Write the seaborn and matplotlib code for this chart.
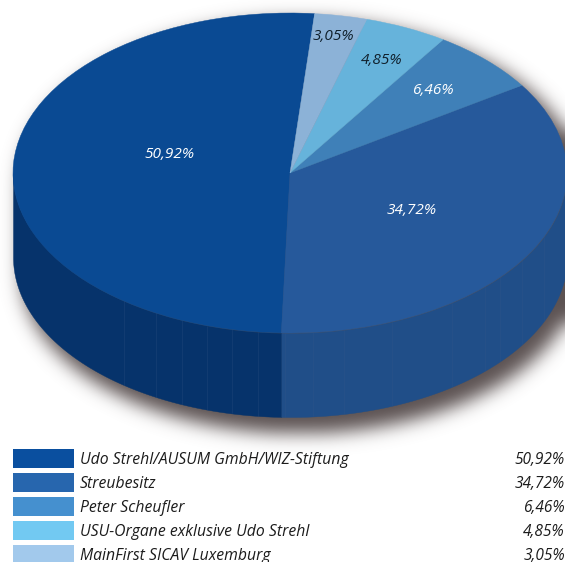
import numpy as np
import matplotlib
matplotlib.use("Agg")
import matplotlib.pyplot as plt
from matplotlib.patches import Rectangle
import seaborn as sns

names = ["Udo Strehl/AUSUM GmbH/WIZ-Stiftung", "Streubesitz", "Peter Scheufler",
         "USU-Organe exklusive Udo Strehl", "MainFirst SICAV Luxemburg"]
shares = [50.92, 34.72, 6.46, 4.85, 3.05]
labels = ["50,92%", "34,72%", "6,46%", "4,85%", "3,05%"]
top_colors = ["#0a4a93", "#26599b", "#3f80b8", "#66b3db", "#8cb2d7"]
side_colors = ["#06336b", "#204e88"]
legend_colors = ["#0a4f9f", "#2766ae", "#4590cf", "#72c9f2", "#a2c9ec"]
label_colors = ["white", "white", "white", "#10202c", "#10202c"]
label_px = [(169, 155), (412, 210), (433, 90), (382, 60), (333, 36)]

W, H = 565, 562
CX, CY, RX, RY, DEPTH = 290, 173, 277, 160, 84
START = 84.9

sns.set_theme(style="white")
plt.rcParams["font.family"] = ["Open Sans", "DejaVu Sans"]
fig = plt.figure(figsize=(W / 100, H / 100), dpi=100, facecolor="white")

# pixel overlay axes
bg = fig.add_axes([0, 0, 1, 1], zorder=0)

# soft shadow from the silhouette of the disc
yy, xx = np.mgrid[0:H, 0:W]
SX, SRX, TOP, BOT = CX + 9, RX + 1, 7, 16
mask = ((((xx - SX) / SRX) ** 2 + ((yy - CY - TOP) / RY) ** 2 <= 1)
        | (((xx - SX) / SRX) ** 2 + ((yy - CY - DEPTH - BOT) / RY) ** 2 <= 1)
        | ((np.abs(xx - SX) <= SRX) & (yy >= CY + TOP) & (yy <= CY + DEPTH + BOT))).astype(float)
pad = 60
big = np.pad(mask, pad, mode="edge")
kx = np.arange(-36, 37)
g = np.exp(-kx ** 2 / (2 * 9.0 ** 2)); g /= g.sum()
big = np.apply_along_axis(lambda r: np.convolve(r, g, mode="same"), 0, big)
big = np.apply_along_axis(lambda r: np.convolve(r, g, mode="same"), 1, big)
blur = big[pad:-pad, pad:-pad]
rgba = np.zeros((H, W, 4))
rgba[..., 0], rgba[..., 1], rgba[..., 2] = 0.36, 0.32, 0.32
rgba[..., 3] = np.clip(blur, 0, 1)
bg.imshow(rgba, extent=(0, W, H, 0), aspect="auto", interpolation="bilinear")
bg.set_xlim(0, W); bg.set_ylim(H, 0); bg.axis("off")

# pie axes: one data unit equals the radius, squashed to an ellipse
ax = fig.add_axes([0, 0, 1, 1], zorder=1)
ax.patch.set_alpha(0)
palette = sns.color_palette(top_colors)

# side wall computed from the shares
edges = START + np.cumsum([0] + shares) * 3.6
depth_u = DEPTH / RY
for i in range(2):
    a0, a1 = edges[i], edges[i + 1]
    a0c, a1c = max(a0, 180), min(a1, 360)
    th = np.radians(np.linspace(a0c, a1c, 300))
    px, py = np.cos(th), np.sin(th)
    ax.fill_between(px, py - depth_u, py, color=side_colors[i], lw=0.3, zorder=1)

# faint facet seams on the wall
seams = [124, 156, 182, 207, 232, 258, 285, 313, 344, 392, 452, 485, 500, 522, 544]
for s in seams:
    u = (s - CX) / RX
    v = -np.sqrt(max(1 - u ** 2, 0))
    ax.plot([u, u], [v, v - depth_u], color="#3a5a88", lw=0.5, alpha=0.3, zorder=2)

wedges, _ = ax.pie(shares, colors=palette, startangle=START, counterclock=True,
                   radius=1, wedgeprops=dict(lw=0.3, zorder=3))
for w, c in zip(wedges, palette):
    w.set_edgecolor(c)
ax.set_aspect("auto")
ax.set_xlim(-CX / RX, (W - CX) / RX)
ax.set_ylim((CY - H) / RY, CY / RY)
ax.axis("off")

# text and legend in pixel coordinates
fg = fig.add_axes([0, 0, 1, 1], zorder=2)
fg.patch.set_alpha(0)
fg.set_xlim(0, W); fg.set_ylim(H, 0); fg.axis("off")
for (x, y), t, c in zip(label_px, labels, label_colors):
    fg.text(x, y, t, color=c, fontsize=11.1, style="italic", ha="center", va="center")

for i, (n, l, c) in enumerate(zip(names, labels, legend_colors)):
    y0 = 449 + 24 * i
    fg.add_patch(Rectangle((13, y0), 61, 19, fc=c, ec="none"))
    fg.text(80, y0 + 11.5, n, color="#1c1c1c", fontsize=11.35, style="italic", ha="left", va="center")
    fg.text(565, y0 + 11.5, l, color="#1c1c1c", fontsize=11.2, style="italic", ha="right", va="center")

fig.savefig("out.png", dpi=100)
